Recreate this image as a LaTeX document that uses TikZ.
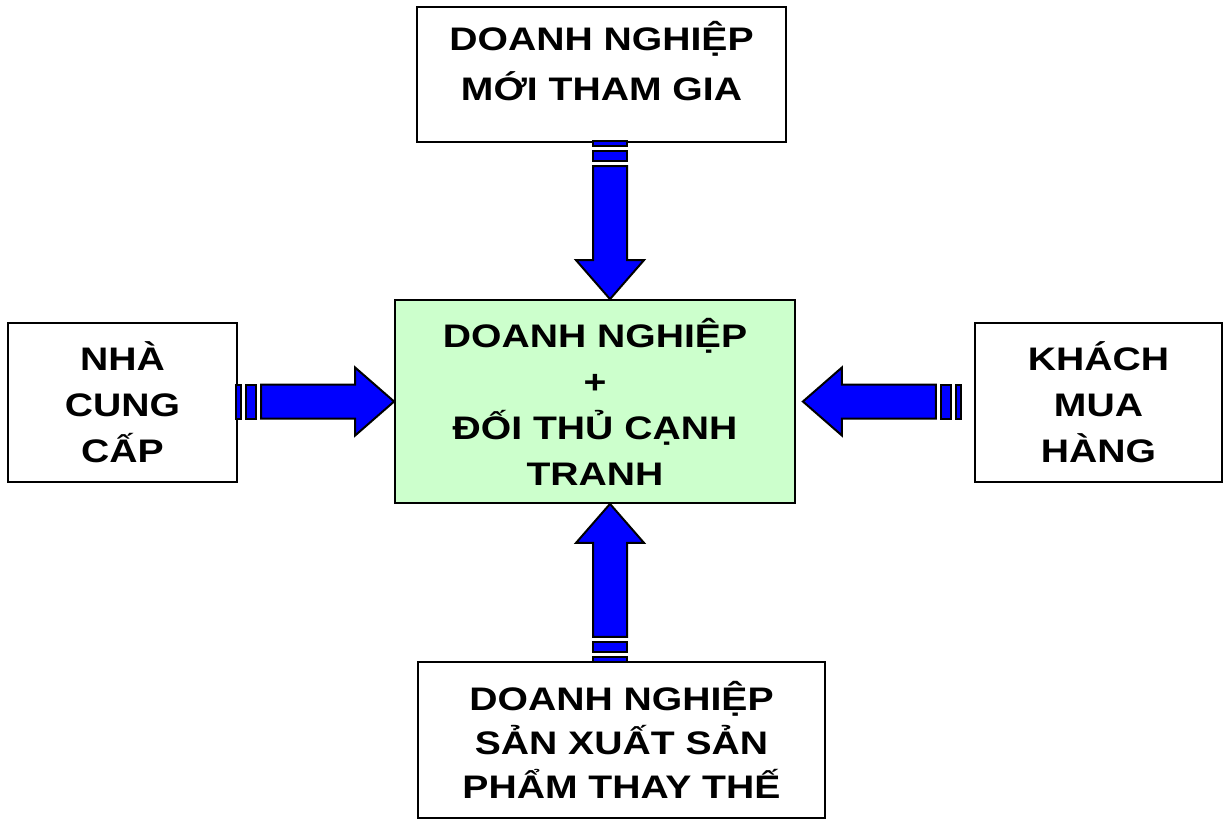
\documentclass[tikz,border=0pt]{standalone}
\usepackage{fontspec}
\setmainfont{Liberation Sans}[FakeStretch=1.2]
\usepackage{xcolor}
\usetikzlibrary{shapes,arrows}

\definecolor{arrowblue}{RGB}{0,0,255}
\definecolor{palegreen}{RGB}{204,255,204}

% striped block arrow: #1 = tip, #2 = direction
\newcommand{\forcearrow}[2]{%
	\begin{scope}[shift={#1}, rotate=#2]
		\filldraw[arrowbody] (-158,-17) rectangle (-153,17);
		\filldraw[arrowbody] (-148,-17) rectangle (-138,17);
		\filldraw[arrowbody] (-133,-17) -- (-39,-17) -- (-39,-34) -- (0,0) -- (-39,34) -- (-39,17) -- (-133,17) -- cycle;
	\end{scope}}

\begin{document}
\begin{tikzpicture}[x=0.5pt, y=-0.5pt]
				\tikzstyle{common} = [draw, line width=0.9pt, align=center, inner sep=0pt, font=\fontsize{16.3}{23}\selectfont\bfseries]
				\tikzstyle{box} = [rectangle, common, fill=white]
				\tikzstyle{centre} = [rectangle, common, fill=palegreen]
				\tikzstyle{arrowbody} = [draw=black, line width=1pt, fill=arrowblue, line join=miter]
				\useasboundingbox (0,0) rectangle (1230,820);
				\node[centre, minimum width=200pt, minimum height=101.5pt] (rivals) at (595,401.5) {DOANH NGHIỆP\\+\\ĐỐI THỦ CẠNH\\TRANH};
				\node[box, minimum width=184.5pt, minimum height=67.5pt, text height=40pt, text depth=14.5pt, font=\fontsize{16.3}{25}\selectfont\bfseries] (newent) at (601.5,74.5) {DOANH NGHIỆP\\MỚI THAM GIA};
				\node[box, minimum width=114.5pt, minimum height=79.5pt] (supplier) at (122.5,402.5) {NHÀ\\CUNG\\CẤP};
				\node[box, minimum width=123.5pt, minimum height=79.5pt] (buyer) at (1098.5,402.5) {KHÁCH\\MUA\\HÀNG};
				\node[box, minimum width=203.5pt, minimum height=78pt, font=\fontsize{16.3}{22}\selectfont\bfseries] (subst) at (621.5,740) {DOANH NGHIỆP\\SẢN XUẤT SẢN\\PHẨM THAY THẾ};

				\forcearrow{([xshift=7.5pt]rivals.north)}{-90}
				\forcearrow{(rivals.west)}{0}
				\forcearrow{([xshift=3.5pt]rivals.east)}{180}
				\forcearrow{([xshift=7.5pt]rivals.south)}{90}
			\end{tikzpicture}
\end{document}
